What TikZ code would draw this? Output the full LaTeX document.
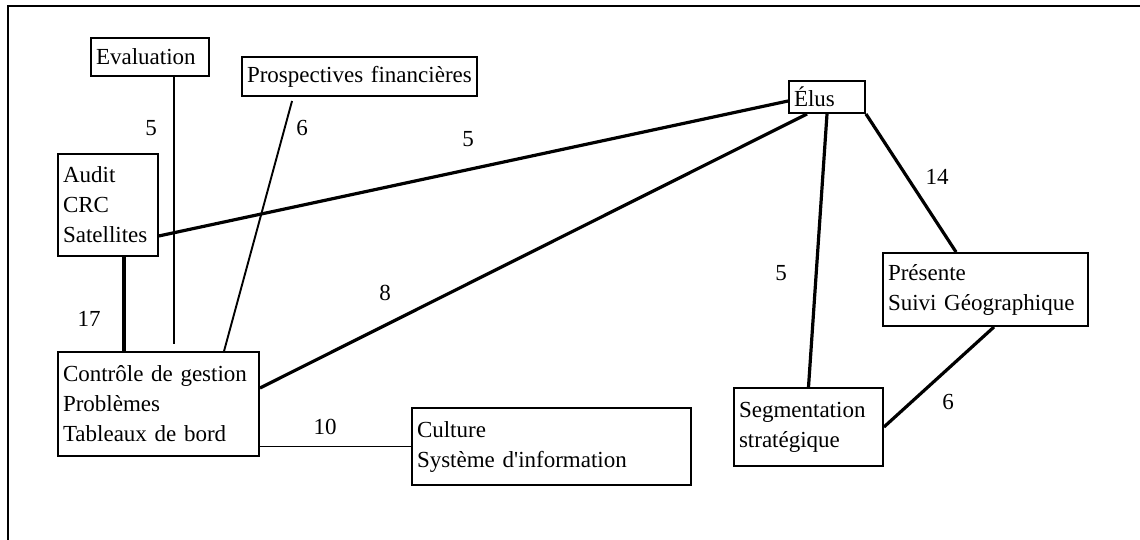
\documentclass[tikz,border=0pt]{standalone}
\usepackage{fontspec}
\setmainfont{Liberation Serif}[Ligatures=TeXOff]
\begin{document}
\begin{tikzpicture}[x=1pt,y=-1pt,
  box/.style={draw, line width=1.9pt, inner xsep=5pt, inner ysep=0pt, align=left,
    font=\fontsize{23}{30}\selectfont},
  lbl/.style={font=\fontsize{23}{30}\selectfont, inner sep=0pt},
  thickline/.style={line width=3.2pt},
  thinline/.style={line width=1.9pt},
  frame/.style={line width=1.9pt}]
\useasboundingbox (0,0) rectangle (1140,540);
\draw[frame] (8,541) -- (8,6) -- (1141,6);

\node[box, minimum width=118pt, minimum height=38pt, text width=108pt] (eval) at (150,57) {Evaluation};
\node[box, minimum width=235pt, minimum height=39pt, text width=225pt] (prosp) at (359.5,76.5) {Prospectives financières};
\node[box, minimum width=100pt, minimum height=102pt, text width=90pt] (audit) at (108,205) {Audit\\CRC\\Satellites};
\node[box, minimum width=201pt, minimum height=104pt, text width=191pt] (ctrl) at (158.5,404) {Contrôle de gestion\\Problèmes\\Tableaux de bord};
\node[box, minimum width=279pt, minimum height=77pt, text width=269pt] (cult) at (551.5,446.5) {Culture\\Système d'information};
\node[box, minimum width=76pt, minimum height=32pt, text width=66pt] (elus) at (827,97) {Élus};
\node[box, minimum width=205pt, minimum height=73pt, text width=195pt] (pres) at (985.5,289.5) {Présente\\Suivi Géographique};
\node[box, minimum width=149pt, minimum height=78pt, text width=139pt] (seg) at (808.5,427) {Segmentation\\stratégique};

\draw[thinline] ([xshift=84pt]eval.south west) -- ([xshift=117pt,yshift=7pt]ctrl.north west);
\draw[thinline] ([xshift=51pt,yshift=-4pt]prosp.south west) -- ([xshift=167pt]ctrl.north west);
\draw[thickline] ([xshift=67pt]audit.south west) -- ([xshift=67pt]ctrl.north west);
\draw[thickline] ([yshift=21pt]audit.south east) -- ([yshift=-4pt]elus.west);
\draw[thickline] ([yshift=16pt]ctrl.east) -- ([xshift=19pt]elus.south west);
\draw[thinline] (ctrl.east |- cult.west) -- (cult.west);
\draw[thickline] (elus.south) -- (seg.north);
\draw[thickline] (elus.south east) -- ([xshift=74pt]pres.north west);
\draw[thickline] ([xshift=8.5pt]pres.south) -- (seg.east);

\node[lbl] (l1) at (151,128) {5};
\node[lbl] (l2) at (302,128) {6};
\node[lbl] (l3) at (468,139) {5};
\node[lbl] (l4) at (89,319) {17};
\node[lbl] (l5) at (385,293) {8};
\node[lbl] (l6) at (325,427) {10};
\node[lbl] (l7) at (781,273) {5};
\node[lbl] (l8) at (937,177) {14};
\node[lbl] (l9) at (948,402) {6};
\end{tikzpicture}
\end{document}
